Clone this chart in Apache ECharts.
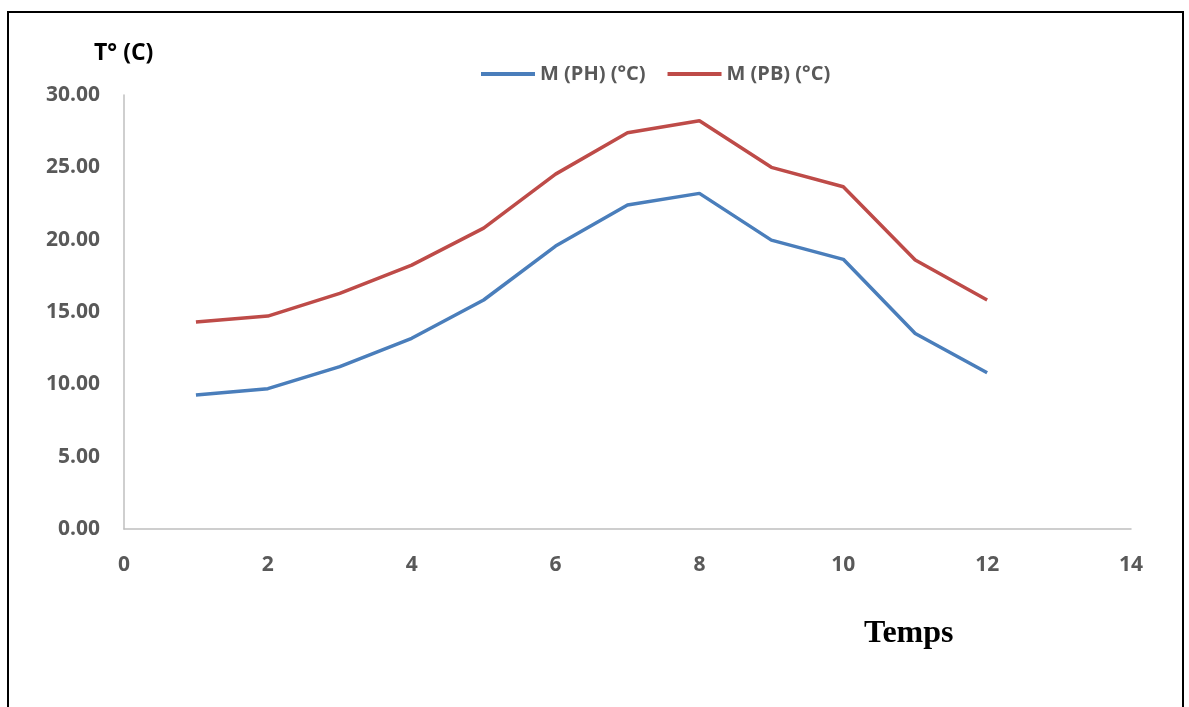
<!DOCTYPE html>
<html>
<head>
<meta charset="utf-8">
<script src="https://cdn.jsdelivr.net/npm/echarts@6/dist/echarts.min.js"></script>
<style>
  html, body { margin: 0; padding: 0; background: #fff; }
  #chart { width: 1189px; height: 707px; }
</style>
</head>
<body>
<div id="chart"></div>
<script>
// temps (x) and the two temperature series
var temps = [1, 2, 3, 4, 5, 6, 7, 8, 9, 10, 11, 12];
var mPH = [9.26, 9.70, 11.22, 13.18, 15.83, 19.56, 22.39, 23.20, 19.97, 18.64, 13.52, 10.80];
var mPB = [14.31, 14.72, 16.29, 18.24, 20.80, 24.53, 27.39, 28.22, 25.00, 23.66, 18.59, 15.83];
var seriesNames = ['M (PH) (°C)', 'M (PB) (°C)'];

function pairs(xs, ys) {
    var out = [];
    for (var i = 0; i < xs.length; i++) {
        out.push([xs[i], ys[i]]);
    }
    return out;
}

var chart = echarts.init(document.getElementById('chart'));
var labelFont = '"Open Sans", "Noto Sans", sans-serif';

var option = {
    animation: false,
    backgroundColor: '#fff',
    textStyle: { fontFamily: labelFont },
    legend: {
        top: 59,
        left: 476,
        itemWidth: 54,
        itemHeight: 4,
        itemGap: 22,
        icon: 'rect',
        textStyle: { color: '#595959', fontSize: 20, fontWeight: 'bold', fontFamily: labelFont },
        data: seriesNames
    },
    grid: {
        left: 124,
        right: 58,
        top: 95,
        bottom: 178
    },
    xAxis: {
        type: 'value',
        min: 0,
        max: 14,
        interval: 2,
        axisLine: { show: true, lineStyle: { color: '#bfbfbf', width: 1.5 } },
        axisTick: { show: false },
        splitLine: { show: false },
        axisLabel: { color: '#595959', fontSize: 21, fontWeight: 'bold', margin: 26 }
    },
    yAxis: {
        type: 'value',
        min: 0,
        max: 30,
        interval: 5,
        axisLine: { show: true, lineStyle: { color: '#bfbfbf', width: 1.5 } },
        axisTick: { show: false },
        splitLine: { show: false },
        axisLabel: {
            color: '#595959', fontSize: 21, fontWeight: 'bold', margin: 24,
            formatter: function (v) { return v.toFixed(2); }
        }
    },
    graphic: [
        // outer frame
        {
            type: 'rect',
            shape: { x: 8, y: 12, width: 1175, height: 720 },
            style: { fill: 'none', stroke: '#000', lineWidth: 2 },
            silent: true
        },
        {
            type: 'text',
            left: 94,
            top: 42,
            style: { text: 'T° (C)', fill: '#000', font: 'bold 23px "Open Sans", sans-serif' }
        },
        {
            type: 'text',
            left: 864,
            top: 618,
            style: { text: 'Temps', fill: '#000', font: 'bold 32px "Liberation Serif", serif' }
        }
    ],
    series: [
        {
            name: seriesNames[0],
            type: 'line',
            data: pairs(temps, mPH),
            showSymbol: false,
            lineStyle: { color: '#4a7ebb', width: 3.5 },
            itemStyle: { color: '#4a7ebb' }
        },
        {
            name: seriesNames[1],
            type: 'line',
            data: pairs(temps, mPB),
            showSymbol: false,
            lineStyle: { color: '#be4b48', width: 3.5 },
            itemStyle: { color: '#be4b48' }
        }
    ]
};

chart.setOption(option);
</script>
</body>
</html>
